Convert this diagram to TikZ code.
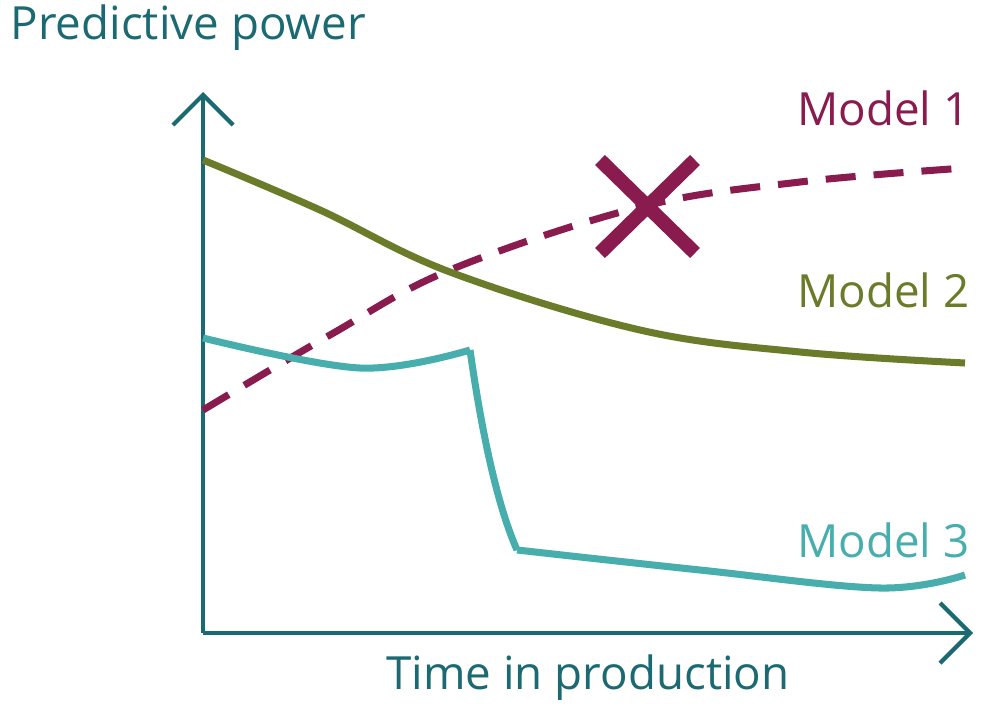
\documentclass[tikz,border=0pt]{standalone}
\usepackage{fontspec}
\setmainfont{Open Sans}
\usetikzlibrary{positioning,arrows.meta}
\definecolor{axisteal}{HTML}{1B6A72}
\definecolor{modelone}{HTML}{8A1B4F}
\definecolor{modeltwo}{HTML}{6A7B2A}
\definecolor{modelthree}{HTML}{47ADAD}
\tikzset{
	axis/.style={axisteal,line width=1.2pt,-{Straight Barb[length=3mm,width=6mm,line width=1.2pt]}},
	curve/.style={line width=2pt},
	lbl/.style={font=\fontsize{13}{15}\selectfont,inner sep=0pt}
}
\begin{document}
\begin{tikzpicture}[x=0.01cm,y=-0.01cm]
	\useasboundingbox (0,0) rectangle (1000,712);
	% axes
	\coordinate (origin) at (203,633);
	\coordinate (ytop) at (203,92);
	\coordinate (xend) at (973,633);
	\draw[axis] (origin) -- (ytop);
	\draw[axis] (origin) -- (xend);
	\node[lbl,axisteal,anchor=west] (ylabel) at (10,28) {Predictive power};
	\node[lbl,axisteal] (xlabel) at (588,678) {Time in production};
	% model curves
	\draw[curve,modelone,dash pattern=on 30pt off 0pt,dash pattern=on 0.3cm off 0.18cm]
		plot[smooth,tension=0.6] coordinates {(203,410) (330,335) (450,270) (640,207) (800,182) (965,168)};
	\draw[curve,modeltwo]
		plot[smooth,tension=0.6] coordinates {(203,160) (320,210) (450,272) (640,330) (800,352) (965,363)};
	\draw[curve,modelthree]
		plot[smooth,tension=0.6] coordinates {(203,338) (360,368) (470,350)};
	\draw[curve,modelthree] (470,350) .. controls (480,420) and (495,500) .. (517,550)
		plot[smooth,tension=0.6] coordinates {(517,550) (700,570) (880,588) (965,575)};
	% cross
	\draw[modelone,line width=4pt] (600,160) -- (695,253) (695,160) -- (600,253);
	% labels
	\node[lbl,modelone,anchor=east] (m1) at (970,108) {Model 1};
	\node[lbl,modeltwo,anchor=east] (m2) at (970,290) {Model 2};
	\node[lbl,modelthree,anchor=east] (m3) at (970,540) {Model 3};
\end{tikzpicture}
\end{document}
